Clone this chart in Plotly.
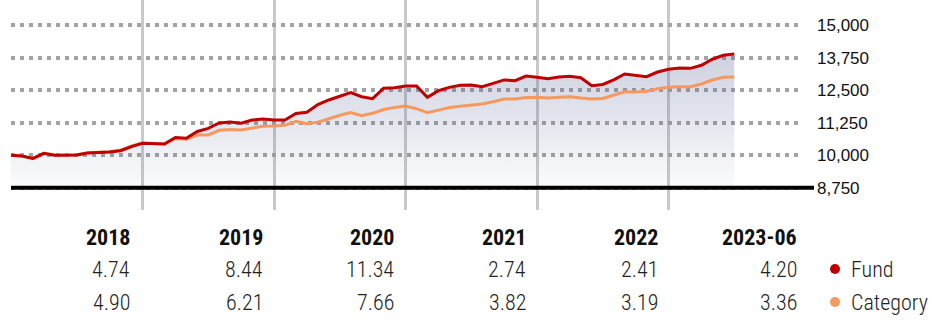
import plotly.graph_objects as go

# ---------------- data ----------------
fund = [10000, 9970, 9875, 10070, 9995, 10000, 10005, 10080, 10100, 10120, 10170, 10330, 10456,
        10440, 10430, 10680, 10650, 10910, 11030, 11235, 11275, 11230, 11350, 11390, 11351,
        11350, 11600, 11650, 11945, 12120, 12245, 12400, 12245, 12170, 12570, 12590, 12657,
        12657, 12225, 12475, 12605, 12685, 12695, 12630, 12760, 12890, 12860, 13040, 12992,
        12940, 13005, 13030, 12975, 12670, 12715, 12890, 13120, 13070, 13015, 13195, 13300,
        13350, 13335, 13455, 13685, 13835, 13885]
category = [10000, 9970, 9875, 10070, 9995, 10005, 10020, 10090, 10110, 10135, 10195, 10350, 10470,
            10445, 10430, 10640, 10610, 10775, 10775, 10955, 10990, 10967, 11050, 11110, 11120,
            11147, 11300, 11205, 11267, 11405, 11532, 11640, 11516, 11608, 11754, 11827, 11889,
            11785, 11632, 11731, 11831, 11881, 11912, 11962, 12050, 12158, 12158, 12215, 12223,
            12196, 12223, 12246, 12196, 12158, 12181, 12312, 12438, 12427, 12454, 12554, 12607,
            12630, 12630, 12734, 12888, 12992, 13003]
months = list(range(len(fund)))

years = ["2018", "2019", "2020", "2021", "2022", "2023-06"]
fund_returns = ["4.74", "8.44", "11.34", "2.74", "2.41", "4.20"]
cat_returns = ["4.90", "6.21", "7.66", "3.82", "3.19", "3.36"]
series_names = ["Fund", "Category"]
y_ticks = [8750, 10000, 11250, 12500, 13750, 15000]
year_ends = [12, 24, 36, 48, 60, 72]

# ---------------- layout constants ----------------
W, H = 938, 324
L, R, T, B = 11, 138, 0, 114
PW, PH = W - L - R, H - T - B
FUND_C = "#c00000"
CAT_C = "#f7995f"
NARROW = ("Roboto Condensed, Open Sans Condensed, Noto Sans Condensed, Liberation Sans Narrow, "
          "Arial Narrow, DejaVu Sans Condensed, sans-serif")
REG = "Liberation Sans, Arial, sans-serif"
TXT = 22


def px_x(px):
    return (px - L) / PW


def px_y(py):
    return 1 - (py - T) / PH


base = y_ticks[0]

fig = go.Figure()
fig.add_trace(go.Scatter(
    x=months + months[::-1], y=fund + [base] * len(fund),
    fill="toself", mode="none", hoverinfo="skip", showlegend=False,
    fillgradient=dict(type="vertical",
                      colorscale=[[0, "rgba(90,100,150,0.02)"], [1, "rgba(90,100,150,0.30)"]],
                      start=base, stop=max(fund)),
))
fig.add_trace(go.Scatter(x=months, y=category, mode="lines", name=series_names[1],
                         line=dict(color=CAT_C, width=3), showlegend=False))
fig.add_trace(go.Scatter(x=months, y=fund, mode="lines", name=series_names[0],
                         line=dict(color=FUND_C, width=3), showlegend=False))

# baseline
fig.add_shape(type="line", xref="paper", yref="y", x0=0, x1=px_x(814), y0=base, y1=base,
              line=dict(color="black", width=4))

# bottom table
col_right = [132, 265, 396, 528, 660, 799]
row_y = [237, 269, 302]
for i, yr in enumerate(years):
    fig.add_annotation(x=px_x(col_right[i]), y=px_y(row_y[0]), xref="paper", yref="paper",
                       text="<b>" + yr + "</b>", showarrow=False, xanchor="right", yanchor="middle",
                       font=dict(family=NARROW, size=TXT, color="#111111"))
    fig.add_annotation(x=px_x(col_right[i]), y=px_y(row_y[1]), xref="paper", yref="paper",
                       text=fund_returns[i], showarrow=False, xanchor="right", yanchor="middle",
                       font=dict(family=NARROW, size=TXT, color="#222222", weight=300))
    fig.add_annotation(x=px_x(col_right[i]), y=px_y(row_y[2]), xref="paper", yref="paper",
                       text=cat_returns[i], showarrow=False, xanchor="right", yanchor="middle",
                       font=dict(family=NARROW, size=TXT, color="#222222", weight=300))

# legend
for name, col, ry in zip(series_names, [FUND_C, CAT_C], row_y[1:]):
    fig.add_shape(type="circle", xref="paper", yref="paper",
                  x0=px_x(830), x1=px_x(840), y0=px_y(ry + 5), y1=px_y(ry - 5),
                  fillcolor=col, line=dict(width=0))
    fig.add_annotation(x=px_x(849), y=px_y(ry), xref="paper", yref="paper", text=name,
                       showarrow=False, xanchor="left", yanchor="middle",
                       font=dict(family=NARROW, size=TXT, color="#222222", weight=300))

fig.update_layout(
    width=W, height=H, margin=dict(l=L, r=R, t=T, b=B),
    paper_bgcolor="white", plot_bgcolor="white", showlegend=False,
    xaxis=dict(range=[0, year_ends[-1]], tickvals=year_ends, showticklabels=False,
               showgrid=True, gridcolor="#c9c9c9", gridwidth=3, zeroline=False,
               showline=False, ticks="", fixedrange=True),
    yaxis=dict(range=[7893, 15961], tickvals=y_ticks, tickformat=",d", side="right",
               showgrid=True, gridcolor="#a3a3a3", gridwidth=4, griddash="4px,5px",
               zeroline=False, showline=False, ticks="", ticklabelstandoff=16,
               tickfont=dict(family=REG, size=17, color="#111111")),
)

fig.write_html("out.html")
